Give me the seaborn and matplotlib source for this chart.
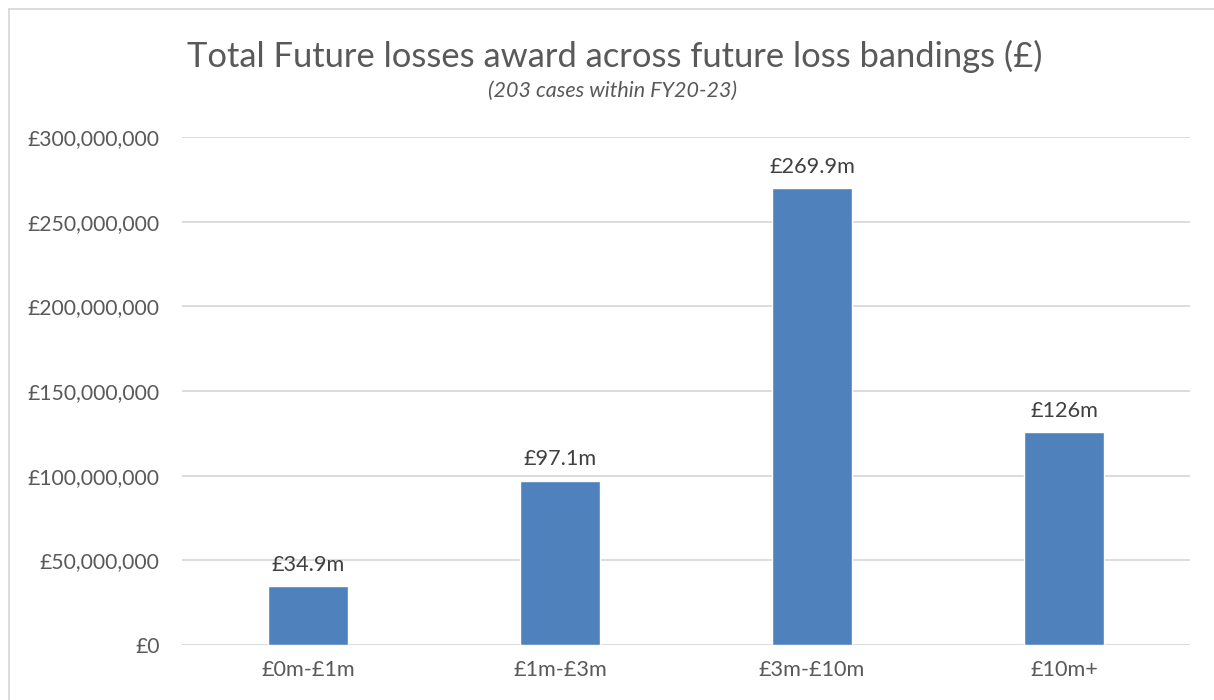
import matplotlib
matplotlib.use("Agg")
import matplotlib.pyplot as plt
from matplotlib.patches import Rectangle
from matplotlib.ticker import FuncFormatter, MultipleLocator
import seaborn as sns
import pandas as pd

# Future loss bands and total awards (GBP)
bands = ["£0m-£1m", "£1m-£3m", "£3m-£10m", "£10m+"]
totals_m = [34.9, 97.1, 269.9, 126]

title = "Total Future losses award across future loss bandings (£)"
subtitle = "(203 cases within FY20-23)"

df = pd.DataFrame({"band": bands, "total": [v * 1e6 for v in totals_m]})

sns.set_theme(style="white")
plt.rcParams["font.family"] = ["Lato", "DejaVu Sans"]

TEXT = "#595959"
GRID = "#D9D9D9"
BAR = "#4F81BD"

W, H = 1214, 700
fig = plt.figure(figsize=(W / 100, H / 100), dpi=100)
fig.patch.set_facecolor("white")

# chart frame
fig.patches.append(Rectangle((9 / W, -0.5), 1.5, 1 - 9 / H + 0.5,
                             transform=fig.transFigure, fill=False,
                             edgecolor=GRID, linewidth=1.3))

ax = fig.add_axes([182 / W, 1 - 645 / H, (1190 - 182) / W, (645 - 137) / H])
sns.barplot(data=df, x="band", y="total", color=BAR, saturation=1,
            width=0.315, ax=ax, zorder=3)

ax.set_ylim(0, 300e6)
ax.yaxis.set_major_locator(MultipleLocator(50e6))
ax.yaxis.set_major_formatter(FuncFormatter(lambda v, p: f"£{v:,.0f}"))
ax.grid(axis="y", color=GRID, linewidth=1.3, zorder=0)
ax.set_axisbelow(True)
for s in ax.spines.values():
    s.set_visible(False)
ax.tick_params(axis="y", length=0, colors=TEXT, labelsize=15.2, pad=16)
ax.tick_params(axis="x", length=0, colors=TEXT, labelsize=15.6, pad=11)
ax.set_xlabel("")
ax.set_ylabel("")

labels = [f"£{v:g}m" for v in totals_m]
ax.bar_label(ax.containers[0], labels=labels, padding=8,
             fontsize=15.6, color="#404040")

fig.text(615 / W, 1 - 56 / H, title, ha="center", va="center",
         fontsize=24.8, color=TEXT)
fig.text(613 / W, 1 - 91 / H, subtitle, ha="center", va="center",
         fontsize=15.5, color=TEXT, style="italic")

fig.savefig("out.png", dpi=100, facecolor="white")
